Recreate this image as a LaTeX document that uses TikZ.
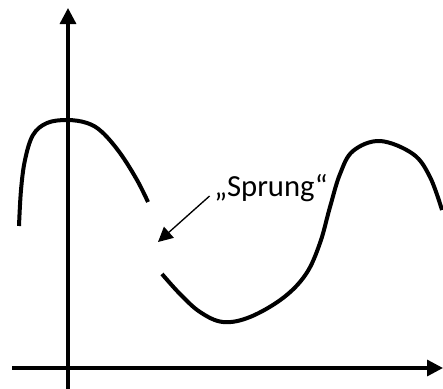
\documentclass[tikz,border=0pt]{standalone}
\usepackage{fontspec}
\setmainfont{Carlito}
\usetikzlibrary{arrows.meta}
\begin{document}
\begin{tikzpicture}[
	x=0.75pt,y=-0.75pt,
	axis/.style={line width=2.5pt,-{Triangle[length=12pt,width=12pt]}},
	graph/.style={line width=3pt},
	pointer/.style={line width=1pt,-{Triangle[length=11pt,width=11pt]}},
	every node/.style={font=\fontsize{23}{28}\selectfont}
	]
	\useasboundingbox (0,0) rectangle (443,389);
	% axes
	\coordinate (ybot) at (68,389);
	\coordinate (ytop) at (68,8);
	\coordinate (xleft) at (12,368);
	\coordinate (xright) at (443,368);
	\draw[axis] (ybot) -- (ytop);
	\draw[axis] (xleft) -- (xright);
	% left piece
	\draw[graph,line cap=butt] plot[smooth,tension=0.6] coordinates {
		(19,226) (21,190) (25,160) (33,135) (47,123) (67,120)
		(87,123) (102,132) (120,153) (137,180) (148,202)};
	% right piece
	\draw[graph] plot[smooth,tension=0.6] coordinates {
		(162,274) (180,294) (200,312) (223,322) (250,317)
		(283,298) (306,274) (320,243) (330,207) (340,174)
		(353,151) (380,141) (413,154) (430,177) (442,210)};
	% label
	\node (sprung) at (271,188) {„Sprung“};
	\coordinate (gap) at (158,242);
	\draw[pointer] (sprung.west) ++(0,8) -- (gap);
\end{tikzpicture}
\end{document}
